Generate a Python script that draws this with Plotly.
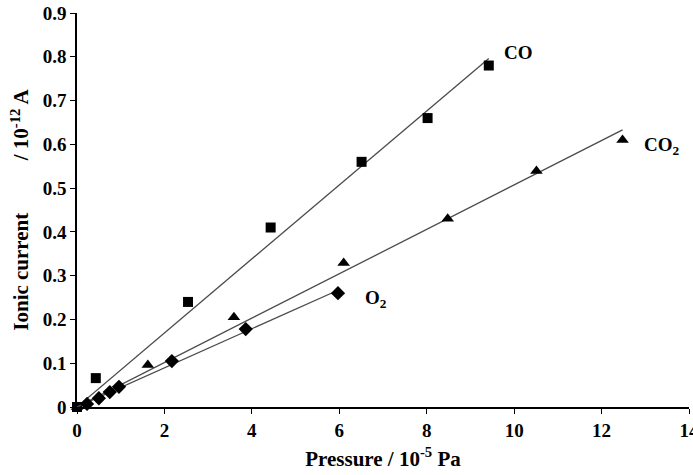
import numpy as np
import plotly.graph_objects as go

# Data
co_x = [0, 0.43, 2.54, 4.43, 6.51, 8.02, 9.42]
co_y = [0, 0.066, 0.24, 0.41, 0.56, 0.66, 0.78]
co2_x = [0, 1.62, 3.59, 6.10, 8.48, 10.51, 12.48]
co2_y = [0, 0.096, 0.205, 0.329, 0.43, 0.539, 0.61]
o2_x = [0.23, 0.50, 0.75, 0.96, 2.17, 3.86, 5.97]
o2_y = [0.007, 0.02, 0.034, 0.046, 0.105, 0.178, 0.26]

x_ticks = [0, 2, 4, 6, 8, 10, 12, 14]
y_ticks = [0, 0.1, 0.2, 0.3, 0.4, 0.5, 0.6, 0.7, 0.8, 0.9]
y_tick_text = ["0", "0.1", "0.2", "0.3", "0.4", "0.5", "0.6", "0.7", "0.8", "0.9"]

FONT = "Liberation Serif, Times New Roman, serif"
LINE_COLOR = "#4a4a4a"


def origin_fit(xs, ys):
    xs = np.asarray(xs, float)
    ys = np.asarray(ys, float)
    slope = float((xs * ys).sum() / (xs * xs).sum())
    xe = [0.0, float(xs.max())]
    return xe, [slope * v for v in xe]


fig = go.Figure()

series = [
    (co_x, co_y, "square", 10),
    (co2_x, co2_y, "triangle-up", 11),
    (o2_x, o2_y, "diamond", 11),
]
for xs, ys, sym, sz in series:
    lx, ly = origin_fit(xs, ys)
    fig.add_trace(go.Scatter(x=lx, y=ly, mode="lines",
                             line=dict(color=LINE_COLOR, width=1.3),
                             showlegend=False, hoverinfo="skip", cliponaxis=False))
    fig.add_trace(go.Scatter(x=xs, y=ys, mode="markers",
                             marker=dict(symbol=sym, size=sz, color="black"),
                             showlegend=False, cliponaxis=False))

labels = [
    (co_x[-1], co_y[-1], "CO", 30, 13),
    (co2_x[-1], co2_y[-1], "CO<sub>2</sub>", 39, -6),
    (o2_x[-1], o2_y[-1], "O<sub>2</sub>", 38, -6),
]
for x, y, t, dx, dy in labels:
    fig.add_annotation(x=x, y=y, text=t, showarrow=False, xanchor="center",
                       xshift=dx, yshift=dy,
                       font=dict(family=FONT, size=19, color="black", weight="bold"))

fig.update_layout(
    width=693, height=475,
    margin=dict(l=77, r=4, t=13, b=68),
    paper_bgcolor="white", plot_bgcolor="white",
    font=dict(family=FONT, size=19, color="black", weight="bold"),
    xaxis=dict(range=[0, 14], tickvals=x_ticks, ticks="outside", ticklen=5,
               tickwidth=1, tickcolor="black", showline=True, linecolor="black",
               linewidth=1.5, showgrid=False, zeroline=False,
               ticklabeloverflow="allow", automargin=False,
               title=dict(text="Pressure / 10<sup>-5</sup> Pa", standoff=12,
                          font=dict(family=FONT, size=21, weight="bold")),
               tickfont=dict(family=FONT, size=19, weight="bold")),
    yaxis=dict(range=[0, 0.9], tickvals=y_ticks, ticktext=y_tick_text,
               ticks="outside", ticklen=5, tickwidth=1, tickcolor="black",
               showline=True, linecolor="black", linewidth=1.5, showgrid=False,
               zeroline=False, ticklabeloverflow="allow", automargin=False,
               title=dict(text="Ionic current          / 10<sup>-12</sup> A", standoff=8,
                          font=dict(family=FONT, size=21, weight="bold")),
               tickfont=dict(family=FONT, size=19, weight="bold")),
)

fig.write_html("out.html")
